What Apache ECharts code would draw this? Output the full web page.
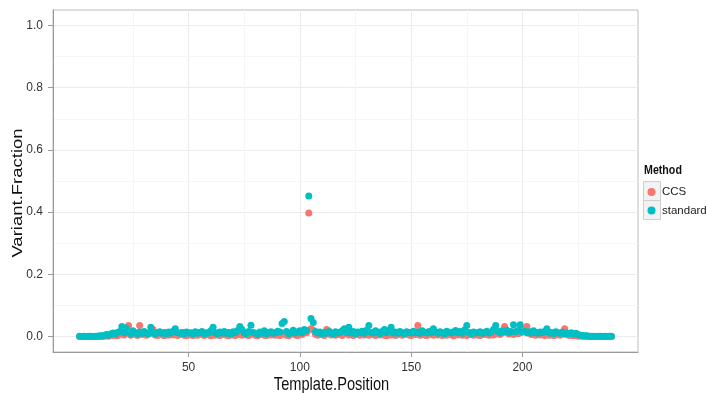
<!DOCTYPE html>
<html>
<head>
<meta charset="utf-8">
<script src="https://cdn.jsdelivr.net/npm/echarts@6/dist/echarts.min.js"></script>
<style>
  html, body { margin: 0; padding: 0; background: #fff; }
  #chart { width: 706px; height: 393px; }
</style>
</head>
<body>
<div id="chart"></div>
<script>
// values, one per template position (1..240)
var positions = [];
for (var p = 1; p <= 240; p++) positions.push(p);

var standardValues = [
  0.001,0.000,0.001,0.000,0.001,0.001,0.000,0.001,0.001,0.002,
  0.002,0.003,0.006,0.004,0.008,0.011,0.007,0.013,0.016,0.032,
  0.012,0.027,0.015,0.009,0.018,0.012,0.008,0.014,0.010,0.016,
  0.011,0.009,0.030,0.013,0.008,0.012,0.015,0.010,0.013,0.009,
  0.014,0.011,0.017,0.025,0.012,0.010,0.013,0.009,0.014,0.011,
  0.012,0.008,0.015,0.010,0.013,0.016,0.009,0.012,0.011,0.018,
  0.030,0.012,0.009,0.014,0.011,0.016,0.010,0.013,0.008,0.015,
  0.012,0.019,0.032,0.022,0.011,0.009,0.016,0.036,0.013,0.010,
  0.007,0.014,0.011,0.018,0.009,0.013,0.015,0.010,0.012,0.017,
  0.014,0.042,0.048,0.016,0.009,0.012,0.020,0.011,0.014,0.018,
  0.012,0.022,0.019,0.452,0.058,0.045,0.016,0.011,0.014,0.009,
  0.013,0.010,0.016,0.012,0.008,0.015,0.011,0.013,0.018,0.025,
  0.013,0.030,0.011,0.016,0.009,0.014,0.012,0.017,0.010,0.020,
  0.035,0.013,0.011,0.018,0.014,0.009,0.016,0.022,0.012,0.019,
  0.030,0.011,0.014,0.010,0.016,0.012,0.009,0.015,0.013,0.011,
  0.017,0.012,0.014,0.010,0.018,0.013,0.011,0.016,0.012,0.025,
  0.014,0.010,0.015,0.012,0.009,0.017,0.013,0.011,0.014,0.019,
  0.012,0.016,0.010,0.021,0.035,0.013,0.009,0.014,0.011,0.012,
  0.015,0.010,0.013,0.017,0.011,0.014,0.022,0.035,0.016,0.012,
  0.018,0.014,0.020,0.013,0.016,0.038,0.015,0.019,0.038,0.014,
  0.017,0.012,0.015,0.011,0.018,0.013,0.010,0.014,0.012,0.016,
  0.025,0.011,0.013,0.009,0.015,0.012,0.010,0.014,0.008,0.011,
  0.009,0.012,0.007,0.010,0.006,0.004,0.003,0.002,0.002,0.001,
  0.001,0.001,0.000,0.001,0.001,0.000,0.001,0.000,0.001,0.001
];

var ccsValues = [
  0.000,0.000,0.000,0.000,0.000,0.000,0.000,0.000,0.000,0.000,
  0.000,0.001,0.002,0.001,0.004,0.003,0.006,0.002,0.008,0.012,
  0.005,0.010,0.035,0.004,0.012,0.007,0.003,0.035,0.006,0.009,
  0.004,0.008,0.011,0.022,0.005,0.003,0.009,0.006,0.002,0.007,
  0.004,0.010,0.005,0.008,0.003,0.006,0.012,0.004,0.002,0.007,
  0.005,0.003,0.009,0.004,0.011,0.006,0.003,0.008,0.005,0.002,
  0.007,0.004,0.010,0.003,0.006,0.012,0.004,0.002,0.008,0.005,
  0.003,0.009,0.006,0.004,0.011,0.005,0.003,0.007,0.010,0.004,
  0.002,0.006,0.009,0.004,0.003,0.008,0.005,0.011,0.004,0.006,
  0.003,0.010,0.007,0.004,0.002,0.008,0.012,0.005,0.003,0.009,
  0.006,0.015,0.012,0.397,0.025,0.020,0.007,0.004,0.010,0.006,
  0.003,0.022,0.018,0.005,0.008,0.004,0.011,0.006,0.003,0.009,
  0.015,0.005,0.008,0.003,0.012,0.006,0.004,0.010,0.005,0.007,
  0.004,0.009,0.006,0.003,0.011,0.005,0.008,0.004,0.002,0.007,
  0.005,0.010,0.003,0.006,0.009,0.004,0.007,0.012,0.005,0.003,
  0.008,0.006,0.035,0.004,0.009,0.005,0.003,0.011,0.006,0.004,
  0.008,0.005,0.010,0.003,0.007,0.004,0.009,0.006,0.002,0.008,
  0.005,0.012,0.004,0.007,0.003,0.009,0.006,0.004,0.010,0.005,
  0.003,0.008,0.006,0.011,0.004,0.007,0.005,0.009,0.014,0.006,
  0.012,0.032,0.018,0.008,0.010,0.006,0.015,0.009,0.012,0.020,
  0.024,0.032,0.010,0.006,0.008,0.004,0.009,0.005,0.007,0.003,
  0.006,0.004,0.008,0.003,0.005,0.007,0.004,0.010,0.025,0.006,
  0.003,0.005,0.002,0.004,0.001,0.002,0.001,0.000,0.001,0.000,
  0.000,0.000,0.000,0.000,0.000,0.000,0.000,0.000,0.000,0.000
];

var xTicks = [50, 100, 150, 200];
var yTicks = [0, 0.2, 0.4, 0.6, 0.8, 1.0];
var xMinorGrid = [25, 75, 125, 175, 225];
var yMinorGrid = [0.1, 0.3, 0.5, 0.7, 0.9];

var FONT = "'Liberation Sans Narrow', 'Liberation Sans', Arial, sans-serif";

function pairs(xs, ys) {
  return xs.map(function (x, i) { return [x, ys[i]]; });
}

var gridLines = [];
xTicks.forEach(function (v) { gridLines.push({ xAxis: v, lineStyle: { color: '#ebebeb' } }); });
yTicks.forEach(function (v) { gridLines.push({ yAxis: v, lineStyle: { color: '#ebebeb' } }); });
xMinorGrid.forEach(function (v) { gridLines.push({ xAxis: v, lineStyle: { color: '#f5f5f5' } }); });
yMinorGrid.forEach(function (v) { gridLines.push({ yAxis: v, lineStyle: { color: '#f5f5f5' } }); });

var chart = echarts.init(document.getElementById('chart'));
var option = {
  animation: false,
  backgroundColor: '#fff',
  grid: {
    left: 53, right: 68, top: 10, bottom: 41,
    containLabel: false, outerBoundsMode: 'none',
    show: true, borderColor: '#bdbdbd', borderWidth: 1, backgroundColor: '#fff'
  },
  xAxis: {
    type: 'value',
    min: -10.95, max: 251.95,
    axisLine: { show: true, onZero: false, lineStyle: { color: '#9a9a9a' } },
    axisTick: { show: true, customValues: xTicks, length: 5, lineStyle: { color: '#9a9a9a' } },
    axisLabel: { customValues: xTicks, margin: 10, fontSize: 12, color: '#333', fontFamily: FONT },
    splitLine: { show: false }
  },
  yAxis: {
    type: 'value',
    min: -0.05, max: 1.05,
    axisLine: { show: true, onZero: false, lineStyle: { color: '#9a9a9a' } },
    axisTick: { show: true, customValues: yTicks, length: 5, lineStyle: { color: '#9a9a9a' } },
    axisLabel: {
      customValues: yTicks, margin: 10, fontSize: 12, color: '#333', fontFamily: FONT,
      formatter: function (v) { return v.toFixed(1); }
    },
    splitLine: { show: false }
  },
  legend: {
    orient: 'vertical',
    left: 647.5, top: 186,
    padding: 0,
    icon: 'circle',
    itemWidth: 11, itemHeight: 8,
    itemGap: 6.5,
    textStyle: { fontSize: 11.5, color: '#222', fontFamily: FONT },
    data: ['CCS', 'standard']
  },
  graphic: [
    { type: 'text', x: 644, y: 170.5, scaleX: 0.82,
      style: { text: 'Method', align: 'left', verticalAlign: 'middle',
        font: "bold 13px 'Liberation Sans', Arial", fill: '#111' } },
    { type: 'rect', left: 643, top: 181, z: -1,
      shape: { width: 17, height: 19 }, style: { fill: '#f2f2f2', stroke: '#cfcfcf', lineWidth: 1 } },
    { type: 'rect', left: 643, top: 200, z: -1,
      shape: { width: 17, height: 19 }, style: { fill: '#f2f2f2', stroke: '#cfcfcf', lineWidth: 1 } },
    { type: 'text', x: 331.5, y: 384.5, scaleX: 0.79,
      style: { text: 'Template.Position', align: 'center', verticalAlign: 'middle',
        font: "18.5px 'Liberation Sans', Arial", fill: '#111' } },
    { type: 'text', x: 18, y: 193, rotation: Math.PI / 2, scaleY: 0.82,
      style: { text: 'Variant.Fraction', align: 'center', verticalAlign: 'middle',
        font: "18.5px 'Liberation Sans', Arial", fill: '#111' } }
  ],
  series: [
    {
      name: 'grid', type: 'line', data: [], silent: true, z: 0,
      markLine: {
        silent: true, symbol: 'none', z: 0,
        label: { show: false },
        lineStyle: { type: 'solid', width: 1 },
        data: gridLines
      }
    },
    {
      name: 'CCS', type: 'scatter', symbolSize: 7, z: 2,
      itemStyle: { color: '#F8766D', opacity: 1 },
      data: pairs(positions, ccsValues)
    },
    {
      name: 'standard', type: 'scatter', symbolSize: 7, z: 3,
      itemStyle: { color: '#00BFC4', opacity: 1 },
      data: pairs(positions, standardValues)
    }
  ]
};
chart.setOption(option);
</script>
</body>
</html>
